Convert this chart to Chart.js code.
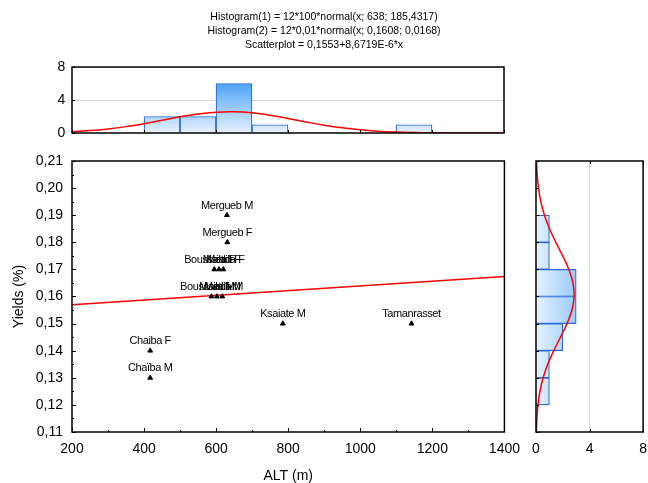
<!DOCTYPE html>
<html>
<head>
<meta charset="utf-8">
<script src="https://cdn.jsdelivr.net/npm/chart.js@4/dist/chart.umd.min.js"></script>
<style>
  html, body { margin: 0; background: #fff; overflow: hidden; }
  #wrap { position: relative; width: 648px; height: 483px; overflow: hidden; }
  #wrap div { position: absolute; }
</style>
</head>
<body>
<div id="wrap">
  <div style="left:0;top:0"><canvas id="chart-top" width="648" height="148"></canvas></div>
  <div style="left:0;top:140px"><canvas id="chart-main" width="529" height="343"></canvas></div>
  <div style="left:520px;top:140px"><canvas id="chart-right" width="136" height="343"></canvas></div>
</div>
<script>
// points
const siteNames = ['Chaiba F', 'Chaïba M', 'Mergueb M', 'Mergueb F', 'Boussaada F', 'Msila F', 'Metlili F',
  'Boussaada M', 'Msila M', 'Metlili M', 'Ksaiate M', 'Tamanrasset'];
const altitude = [417, 417, 630, 631, 595, 608, 620, 587, 602, 617, 785, 1142];
const yieldPct = [0.14, 0.13, 0.19, 0.18, 0.17, 0.17, 0.17, 0.16, 0.16, 0.16, 0.15, 0.15];

// regression line end points
const regAlt = [200, 1400];
const regYield = [0.1570, 0.1674];

// histogram of ALT (bins of 100 m)
const altBinCenters = [250, 350, 450, 550, 650, 750, 850, 950, 1050, 1150, 1250, 1350];
const altBinCounts = [0, 0, 2, 2, 6, 1, 0, 0, 0, 1, 0, 0];
const altCurveX = [200, 250, 300, 350, 400, 450, 500, 550, 600, 650, 700, 750, 800, 850, 900, 950,
  1000, 1050, 1100, 1150, 1200, 1250, 1300, 1350, 1400];
const altCurveY = [0.159, 0.289, 0.490, 0.773, 1.133, 1.544, 1.957, 2.307, 2.528, 2.577, 2.441, 2.152,
  1.763, 1.343, 0.951, 0.627, 0.384, 0.219, 0.116, 0.057, 0.026, 0.011, 0.004, 0.0015, 0.0005];

// histogram of yields (bins of 0,01)
const yieldBinCenters = [0.125, 0.135, 0.145, 0.155, 0.165, 0.175, 0.185];
const yieldBinCounts = [1, 1, 2, 3, 3, 1, 1];
const yieldCurveY = [0.110, 0.115, 0.120, 0.125, 0.130, 0.135, 0.140, 0.145, 0.150, 0.155, 0.160,
  0.165, 0.170, 0.175, 0.180, 0.185, 0.190, 0.195, 0.200, 0.205, 0.210];
const yieldCurveX = [0.030, 0.069, 0.149, 0.294, 0.531, 0.876, 1.324, 1.831, 2.318, 2.685, 2.847,
  2.762, 2.453, 1.994, 1.483, 1.010, 0.629, 0.359, 0.187, 0.090, 0.039];

// ticks
const altTicks = [200, 400, 600, 800, 1000, 1200, 1400];
const altMinor = [300, 500, 700, 900, 1100, 1300];
const yieldTicks = [0.11, 0.12, 0.13, 0.14, 0.15, 0.16, 0.17, 0.18, 0.19, 0.20, 0.21];
const yieldTickLabels = ['0,11', '0,12', '0,13', '0,14', '0,15', '0,16', '0,17', '0,18', '0,19', '0,20', '0,21'];
const yieldMinor = [0.115, 0.125, 0.135, 0.145, 0.155, 0.165, 0.175, 0.185, 0.195, 0.205];
const countTicks = [0, 4, 8];

const titleLines = [
  'Histogram(1) = 12*100*normal(x; 638; 185,4317)',
  'Histogram(2) = 12*0,01*normal(x; 0,1608; 0,0168)',
  'Scatterplot = 0,1553+8,6719E-6*x'
];

Chart.defaults.font.family = '"Liberation Sans", Arial, sans-serif';
Chart.defaults.font.size = 14;
Chart.defaults.color = '#000';
Chart.defaults.animation = false;
Chart.defaults.plugins.legend.display = false;
Chart.defaults.plugins.tooltip.enabled = false;

const RED = '#ff0000';
const BAR_BORDER = '#2a6ad8';

function setTicks(list) {
  return function (scale) { scale.ticks = list.map(v => ({ value: v })); };
}

function gradient(context, horizontal) {
  const chart = context.chart;
  const a = chart.chartArea;
  if (!a) return '#cfe4fb';
  const g = horizontal
    ? chart.ctx.createLinearGradient(a.left, 0, a.right, 0)
    : chart.ctx.createLinearGradient(0, a.bottom, 0, a.top);
  g.addColorStop(0, '#e6f1fd');
  g.addColorStop(1, '#1c8af3');
  return g;
}

// box around the plot area + small inward tick marks
function frame(marks) {
  return {
    id: 'frame',
    afterDatasetsDraw(chart) {
      const { ctx, chartArea: a, scales } = chart;
      ctx.save();
      ctx.strokeStyle = '#000';
      ctx.lineWidth = 1;
      ctx.beginPath();
      marks.forEach(m => {
        const s = scales[m.scale];
        m.values.forEach(v => {
          const p = Math.round(s.getPixelForValue(v)) + 0.5;
          if (m.edge === 'bottom') { ctx.moveTo(p, a.bottom); ctx.lineTo(p, a.bottom - m.len); }
          if (m.edge === 'top') { ctx.moveTo(p, a.top); ctx.lineTo(p, a.top + m.len); }
          if (m.edge === 'left') { ctx.moveTo(a.left, p); ctx.lineTo(a.left + m.len, p); }
        });
      });
      ctx.stroke();
      ctx.lineWidth = 1.5;
      ctx.strokeRect(a.left, a.top, a.right - a.left, a.bottom - a.top);
      ctx.restore();
    }
  };
}

const pointLabels = {
  id: 'pointLabels',
  afterDatasetsDraw(chart) {
    const ctx = chart.ctx;
    const meta = chart.getDatasetMeta(0);
    ctx.save();
    ctx.font = '11px "Liberation Sans", Arial, sans-serif';
    ctx.letterSpacing = '-0.4px';
    ctx.fillStyle = '#000';
    ctx.textAlign = 'center';
    ctx.textBaseline = 'middle';
    meta.data.forEach((pt, i) => ctx.fillText(siteNames[i], pt.x, pt.y - 9.5));
    ctx.restore();
  }
};

const gridAt4 = c => (c.tick && c.tick.value === 4) ? '#d6d6d6' : 'rgba(0,0,0,0)';

// top histogram (ALT)
new Chart(document.getElementById('chart-top'), {
  type: 'bar',
  data: {
    datasets: [{
      type: 'line',
      data: altCurveX.map((x, i) => ({ x: x, y: altCurveY[i] })),
      borderColor: RED,
      borderWidth: 1.5,
      pointRadius: 0,
      tension: 0.4
    }, {
      data: altBinCenters.map((x, i) => ({ x: x, y: altBinCounts[i] })),
      backgroundColor: c => gradient(c, false),
      borderColor: BAR_BORDER,
      borderWidth: 1.2,
      barPercentage: 1,
      categoryPercentage: 1
    }]
  },
  options: {
    responsive: false,
    layout: { padding: 0 },
    plugins: {
      title: {
        display: true,
        text: titleLines,
        font: { size: 10.5, weight: 'normal', lineHeight: 14 / 10.5 },
        padding: { top: 10, bottom: 15 }
      }
    },
    scales: {
      x: {
        type: 'linear', min: 200, max: 1400, offset: false,
        afterBuildTicks: setTicks(altTicks),
        ticks: { display: false },
        grid: { display: false },
        border: { display: false },
        afterFit: s => { s.height = 7; }
      },
      y: {
        min: 0, max: 8,
        afterBuildTicks: setTicks(countTicks),
        ticks: { padding: 6.6, callback: v => String(v) },
        grid: { drawTicks: false, color: gridAt4 },
        border: { display: false },
        afterFit: s => { s.width = 72; }
      },
      pad: {
        type: 'linear', position: 'right',
        ticks: { display: false },
        grid: { display: false },
        border: { display: false },
        afterFit: s => { s.width = 144; }
      }
    }
  },
  plugins: [frame([
    { scale: 'x', values: altTicks, edge: 'bottom', len: 3 },
    { scale: 'y', values: countTicks, edge: 'left', len: 3 }
  ])]
});

// main scatter
new Chart(document.getElementById('chart-main'), {
  type: 'scatter',
  data: {
    datasets: [{
      data: altitude.map((x, i) => ({ x: x, y: yieldPct[i] })),
      pointStyle: 'triangle',
      pointRadius: 2.8,
      backgroundColor: '#000',
      borderColor: '#000',
      borderWidth: 1
    }, {
      data: regAlt.map((x, i) => ({ x: x, y: regYield[i] })),
      showLine: true,
      borderColor: RED,
      borderWidth: 1.5,
      pointRadius: 0
    }]
  },
  options: {
    responsive: false,
    layout: { padding: { left: 0, right: 16, top: 21, bottom: 0 } },
    scales: {
      x: {
        min: 200, max: 1400,
        afterBuildTicks: setTicks(altTicks),
        ticks: { padding: 9, autoSkip: false, maxRotation: 0, callback: v => String(v) },
        grid: { drawOnChartArea: false, drawTicks: false },
        border: { display: false },
        title: { display: true, text: 'ALT (m)', padding: { top: 0, bottom: -2 } },
        afterFit: s => { s.height = 51; }
      },
      y: {
        min: 0.11, max: 0.21,
        afterBuildTicks: setTicks(yieldTicks),
        ticks: { padding: 9, autoSkip: false, callback: (v, i) => yieldTickLabels[i] },
        grid: { drawOnChartArea: false, drawTicks: false },
        border: { display: false },
        title: { display: true, text: 'Yields (%)', padding: { top: 11, bottom: 0 } },
        afterFit: s => { s.width = 72; }
      }
    }
  },
  plugins: [frame([
    { scale: 'x', values: altTicks, edge: 'bottom', len: 4 },
    { scale: 'x', values: altMinor, edge: 'bottom', len: 2 },
    { scale: 'y', values: yieldTicks, edge: 'left', len: 4 },
    { scale: 'y', values: yieldMinor, edge: 'left', len: 2 }
  ]), pointLabels]
});

// right histogram (yields)
new Chart(document.getElementById('chart-right'), {
  type: 'bar',
  data: {
    datasets: [{
      type: 'line',
      indexAxis: 'y',
      data: yieldCurveY.map((y, i) => ({ x: yieldCurveX[i], y: y })),
      borderColor: RED,
      borderWidth: 1.5,
      pointRadius: 0,
      tension: 0.4
    }, {
      data: yieldBinCenters.map((y, i) => ({ x: yieldBinCounts[i], y: y })),
      backgroundColor: c => gradient(c, true),
      borderColor: BAR_BORDER,
      borderWidth: 1.2,
      barPercentage: 1,
      categoryPercentage: 1
    }]
  },
  options: {
    responsive: false,
    indexAxis: 'y',
    layout: { padding: { left: 0, right: 5, top: 21, bottom: 0 } },
    scales: {
      x: {
        type: 'linear', min: 0, max: 8,
        afterBuildTicks: setTicks(countTicks),
        ticks: { padding: 9, callback: v => String(v) },
        grid: { drawTicks: false, color: gridAt4 },
        border: { display: false },
        afterFit: s => { s.height = 51; }
      },
      y: {
        type: 'linear', min: 0.11, max: 0.21, offset: false,
        afterBuildTicks: setTicks(yieldTicks),
        ticks: { display: false },
        grid: { display: false },
        border: { display: false },
        afterFit: s => { s.width = 16; }
      }
    }
  },
  plugins: [frame([
    { scale: 'y', values: yieldTicks, edge: 'left', len: 3 },
    { scale: 'x', values: countTicks, edge: 'bottom', len: 3 },
    { scale: 'x', values: countTicks, edge: 'top', len: 3 }
  ])]
});
</script>
</body>
</html>
